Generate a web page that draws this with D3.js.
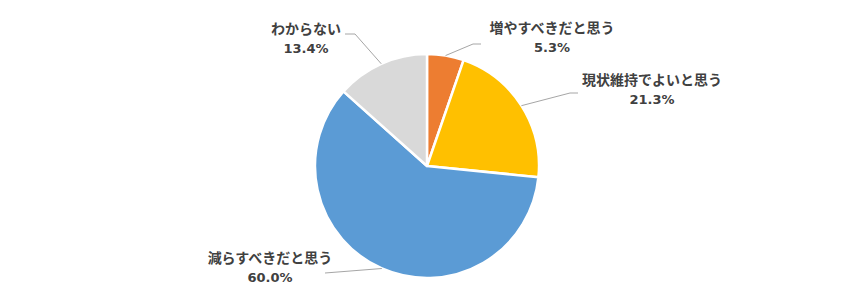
<!DOCTYPE html>
<html>
<head>
<meta charset="utf-8">
<script src="https://cdn.jsdelivr.net/npm/d3@7"></script>
<style>
  body { margin: 0; background: #fff; }
  text { font-family: "Noto Sans CJK JP", "Noto Sans", sans-serif; font-weight: bold; fill: #404040; }
  text.pct { font-family: "DejaVu Sans", sans-serif; }
</style>
</head>
<body>
<div id="chart"></div>
<script>
  var categories = ["増やすべきだと思う", "現状維持でよいと思う", "減らすべきだと思う", "わからない"];
  var values = [5.3, 21.3, 60.0, 13.4];
  var labels = ["5.3%", "21.3%", "60.0%", "13.4%"];
  var colors = ["#ED7D31", "#FFC000", "#5B9BD5", "#D9D9D9"];

  var width = 857;
  var height = 303;
  var cx = 427, cy = 166, radius = 112;

  // where each label sits and where its leader line bends
  var labelPos = [
    { x: 552, y: 33, elbow: [[473, 44], [481, 44]] },
    { x: 652, y: 85, elbow: [[570, 93], [578, 93]] },
    { x: 270, y: 263, elbow: [[325, 273]] },
    { x: 306, y: 34, elbow: [[355, 34], [345, 34]] }
  ];

  var svg = d3.select("#chart")
    .append("svg")
    .attr("width", width)
    .attr("height", height);

  var pie = d3.pie().sort(null).value(function(d) { return d; });
  var arc = d3.arc().innerRadius(0).outerRadius(radius);
  var arcs = pie(values);

  var g = svg.append("g").attr("transform", "translate(" + cx + "," + cy + ")");

  g.selectAll("path")
    .data(arcs)
    .enter()
    .append("path")
    .attr("d", arc)
    .style("fill", function(d, i) { return colors[i]; })
    .style("stroke", "#fff")
    .style("stroke-width", 2.5)
    .style("stroke-linejoin", "round");

  // leader lines from the rim of each slice
  arcs.forEach(function(d, i) {
    var a = (d.startAngle + d.endAngle) / 2;
    var start = [cx + radius * Math.sin(a), cy - radius * Math.cos(a)];
    var pts = [start].concat(labelPos[i].elbow);
    svg.append("path")
      .attr("d", d3.line()(pts))
      .style("fill", "none")
      .style("stroke", "#A6A6A6")
      .style("stroke-width", 1);
  });

  var lab = svg.selectAll("g.lab")
    .data(arcs)
    .enter()
    .append("g")
    .attr("class", "lab");

  lab.append("text")
    .attr("x", function(d, i) { return labelPos[i].x; })
    .attr("y", function(d, i) { return labelPos[i].y; })
    .attr("text-anchor", "middle")
    .style("font-size", "14px")
    .text(function(d, i) { return categories[i]; });

  lab.append("text")
    .attr("class", "pct")
    .attr("x", function(d, i) { return labelPos[i].x; })
    .attr("y", function(d, i) { return labelPos[i].y + 19; })
    .attr("text-anchor", "middle")
    .style("font-size", "13px")
    .text(function(d, i) { return labels[i]; });
</script>
</body>
</html>
